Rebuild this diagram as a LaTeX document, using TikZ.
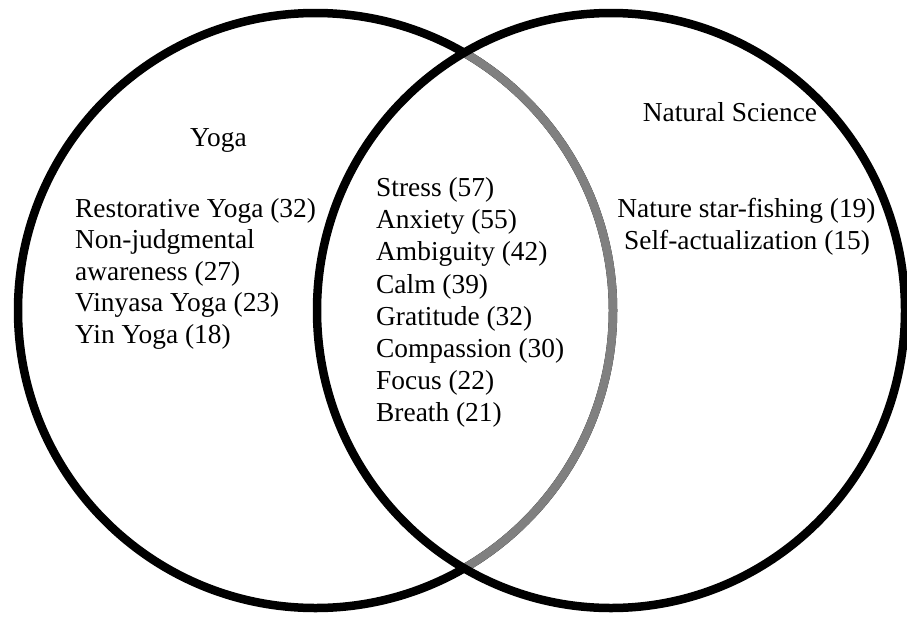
\documentclass[tikz,border=0pt]{standalone}
\usepackage{fontspec}
\setmainfont{Liberation Serif}
\definecolor{ringgray}{gray}{0.5}
\begin{document}
\begin{tikzpicture}[x=1pt,y=-1pt,
  ring/.style={line width=8.5pt},
  term/.style={inner sep=0pt, font=\fontsize{27.4}{31.8}\selectfont},
  ]
\useasboundingbox (0,0) rectangle (907,616);
\coordinate (cyoga) at (315.5,310.5);
\coordinate (cnat) at (611,310.5);

% Yoga ring in black
\draw[ring] (cyoga) circle[radius=297.5pt];
% its arc inside the Natural Science ring in gray
\begin{scope}
  \clip (cnat) ellipse[x radius=294pt, y radius=297.5pt];
  \draw[ring, ringgray] (cyoga) circle[radius=297.5pt];
\end{scope}
% Natural Science ring
\draw[ring] (cnat) ellipse[x radius=294pt, y radius=297.5pt];

% set titles
\node[term, anchor=base] (yoga) at (218.5,146) {Yoga};
\node[term, anchor=base] (natsci) at (730,121) {Natural Science};

% Yoga only
\foreach \t [count=\i] in {Restorative Yoga (32), Non-judgmental, awareness (27), Vinyasa Yoga (23), Yin Yoga (18)}
  \node[term, anchor=base west] (y\i) at (75,{217+31.5*(\i-1)}) {\t};

% shared terms
\foreach \t [count=\i] in {Stress (57), Anxiety (55), Ambiguity (42), Calm (39), Gratitude (32), Compassion (30), Focus (22), Breath (21)}
  \node[term, anchor=base west] (b\i) at (376,{196.7+32.1*(\i-1)}) {\t};

% Natural Science only
\node[term, anchor=base] (n1) at (746.5,217) {Nature star-fishing (19)};
\node[term, anchor=base] (n2) at (747,249) {Self-actualization (15)};
\end{tikzpicture}
\end{document}
